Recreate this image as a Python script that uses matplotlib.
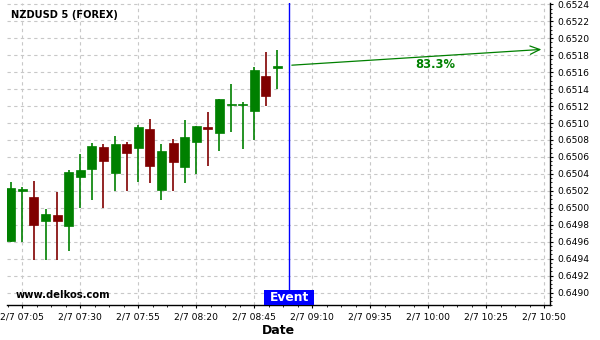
import numpy as np
import matplotlib
matplotlib.use("Agg")
import matplotlib.pyplot as plt
from matplotlib.patches import Rectangle
from matplotlib.ticker import MultipleLocator, FuncFormatter

# 5-minute NZDUSD candles, 07:00 .. 08:55 on 2/7
times = ["07:00", "07:05", "07:10", "07:15", "07:20", "07:25", "07:30", "07:35",
         "07:40", "07:45", "07:50", "07:55", "08:00", "08:05", "08:10", "08:15",
         "08:20", "08:25", "08:30", "08:35", "08:40", "08:45", "08:50", "08:55"]
opens = [0.64961, 0.65020, 0.65013, 0.64984, 0.64992, 0.64978, 0.65036, 0.65046,
         0.65072, 0.65041, 0.65075, 0.65071, 0.65093, 0.65021, 0.65076, 0.65048,
         0.65078, 0.65095, 0.65088, 0.65121, 0.65121, 0.65114, 0.65155, 0.65165]
closes = [0.65023, 0.65022, 0.64980, 0.64993, 0.64984, 0.65042, 0.65045, 0.65073,
          0.65055, 0.65075, 0.65065, 0.65095, 0.65049, 0.65067, 0.65054, 0.65083,
          0.65096, 0.65093, 0.65128, 0.65123, 0.65123, 0.65163, 0.65132, 0.65167]
highs = [0.65031, 0.65024, 0.65032, 0.64999, 0.65019, 0.65044, 0.65064, 0.65076,
         0.65075, 0.65085, 0.65078, 0.65098, 0.65105, 0.65075, 0.65081, 0.65104,
         0.65097, 0.65113, 0.65128, 0.65146, 0.65125, 0.65166, 0.65184, 0.65186]
lows = [0.64960, 0.64960, 0.64939, 0.64939, 0.64939, 0.64949, 0.65000, 0.65009,
        0.65000, 0.65020, 0.65020, 0.65030, 0.65029, 0.65009, 0.65020, 0.65029,
        0.65040, 0.65049, 0.65067, 0.65089, 0.65069, 0.65080, 0.65120, 0.65140]

event_time = "09:00"
forecast_end = "10:50"
forecast_from = 0.65168
forecast_to = 0.65187
forecast_label = "83.3%"
label_time = "10:03"


def minutes(t):
    h, m = t.split(":")
    return (int(h) - 7) * 60 + int(m)


x = np.array([minutes(t) for t in times])
o = np.array(opens)
c = np.array(closes)
h = np.array(highs)
l = np.array(lows)
up = c >= o
cols = np.where(up, "#008000", "#800000")

fig = plt.figure(figsize=(6, 3.4), dpi=100)
ax = fig.add_axes([7 / 600, 1 - 305.3 / 340, 543 / 600, 302 / 340])

ax.vlines(x, l, h, colors=cols, lw=1.2, zorder=3)
ax.bar(x, np.abs(c - o), bottom=np.minimum(o, c), width=3.9, color=cols,
       edgecolor=cols, lw=0.5, zorder=4)

ev = minutes(event_time)
ax.axvline(ev, color="#0000ff", lw=1, zorder=5)
ax.annotate("", xy=(minutes(forecast_end), forecast_to), xytext=(ev, forecast_from),
            arrowprops=dict(arrowstyle="->,head_length=0.7,head_width=0.3",
                            color="#008000", lw=0.9), zorder=5)
ax.text(minutes(label_time), 0.65169, forecast_label, color="#008000",
        fontsize=8.3, fontweight="bold", ha="center", va="center")

ax.add_patch(Rectangle((ev - 10.8, 0.0), 21.6, 0.05, transform=ax.get_xaxis_transform(),
                       facecolor="#0000ff", edgecolor="none", zorder=6, clip_on=False))
ax.text(ev, 0.026, "Event", transform=ax.get_xaxis_transform(), color="white",
        fontsize=8.8, fontweight="bold", ha="center", va="center", zorder=7)
ax.text(0.0166, 0.034, "www.delkos.com", transform=ax.transAxes, fontsize=7.2,
        fontweight="bold", ha="left", va="center")

ax.set_xlim(-1.6, 232.5)
ax.set_ylim(0.64885, 0.652412)
ax.xaxis.set_major_locator(MultipleLocator(25, offset=5))
ax.xaxis.set_minor_locator(MultipleLocator(6.25, offset=5))
ax.xaxis.set_major_formatter(FuncFormatter(
    lambda v, p: "2/7 %02d:%02d" % (7 + int(round(v)) // 60, int(round(v)) % 60)))
ax.yaxis.set_major_locator(MultipleLocator(0.0002))
ax.yaxis.set_minor_locator(MultipleLocator(0.00005))
ax.yaxis.set_major_formatter(FuncFormatter(lambda v, p: "%.4f" % v))
ax.yaxis.tick_right()

ax.tick_params(axis="both", which="major", labelsize=6.6, length=2.5, width=0.8)
ax.tick_params(axis="both", which="minor", length=1.5, width=0.6)
ax.tick_params(axis="x", pad=3)
ax.tick_params(axis="y", pad=3)

ax.grid(True, which="major", color="#c8c8c8", linestyle=(0, (3, 3)), lw=0.8)
ax.set_axisbelow(True)
for s in ["left", "top"]:
    ax.spines[s].set_visible(False)
for s in ["right", "bottom"]:
    ax.spines[s].set_linewidth(1.0)

fig.text(11 / 600, 1 - 15 / 340, "NZDUSD 5 (FOREX)", fontsize=7.1, fontweight="bold",
         ha="left", va="center")
fig.text(278 / 600, 1 - 331 / 340, "Date", fontsize=9, fontweight="bold",
         ha="center", va="center")

fig.savefig("out.png", dpi=100)
